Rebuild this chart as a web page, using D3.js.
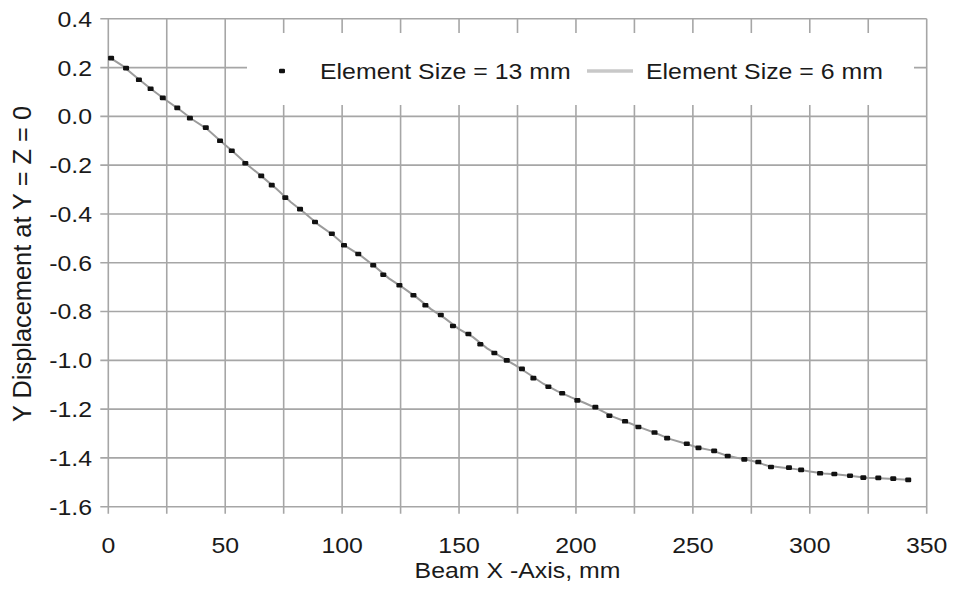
<!DOCTYPE html>
<html><head><meta charset="utf-8">
<script src="https://cdn.jsdelivr.net/npm/d3@7"></script>
<style>body{margin:0;background:#fff}svg text{font-family:"Liberation Sans",Arial,sans-serif;fill:#1a1a1a}</style>
</head><body><svg id="c" width="953" height="593"></svg>
<script>
// ---- data ----
const xTickValues = [0, 50, 100, 150, 200, 250, 300, 350];
const yTickValues = [0.4, 0.2, 0.0, -0.2, -0.4, -0.6, -0.8, -1.0, -1.2, -1.4, -1.6];
const yTickLabels = ["0.4","0.2","0.0","-0.2","-0.4","-0.6","-0.8","-1.0","-1.2","-1.4","-1.6"];
const seriesNames = ["Element Size = 13 mm", "Element Size = 6 mm"];
// Element Size = 13 mm (markers)
const coarseX = [1.2,7.6,13.1,18.1,23.3,29.5,34.9,41.7,47.8,52.8,58.6,65.4,69.9,75.7,82.0,88.4,95.6,100.8,106.9,113.3,117.6,124.5,130.5,135.6,142.2,147.4,154.0,159.1,165.1,170.4,176.9,181.8,188.2,194.1,200.6,208.3,214.3,221.0,226.7,233.6,239.0,247.4,252.4,259.1,264.9,272.0,278.0,283.4,291.1,296.3,304.4,310.5,317.2,322.9,329.3,335.7,342.1];
const coarseY = [0.239,0.198,0.150,0.113,0.076,0.035,-0.007,-0.046,-0.100,-0.141,-0.192,-0.244,-0.282,-0.333,-0.380,-0.433,-0.481,-0.528,-0.564,-0.610,-0.649,-0.692,-0.733,-0.774,-0.814,-0.859,-0.892,-0.934,-0.970,-1.000,-1.035,-1.073,-1.108,-1.135,-1.164,-1.192,-1.227,-1.250,-1.273,-1.296,-1.319,-1.342,-1.359,-1.371,-1.392,-1.406,-1.417,-1.437,-1.440,-1.449,-1.463,-1.466,-1.473,-1.481,-1.482,-1.485,-1.490];
// Element Size = 6 mm (line)
const fineX = [0,6,12,18,24,30,36,42,48,54,60,66,72,78,84,90,96,102,108,114,120,126,132,138,144,150,156,162,168,174,180,186,192,198,204,210,216,222,228,234,240,246,252,258,264,270,276,282,288,294,300,306,312,318,324,330,336,342];
const fineY = [0.245,0.208,0.160,0.114,0.071,0.031,-0.013,-0.050,-0.101,-0.150,-0.202,-0.249,-0.298,-0.351,-0.396,-0.445,-0.485,-0.535,-0.571,-0.615,-0.664,-0.702,-0.743,-0.790,-0.828,-0.872,-0.905,-0.951,-0.986,-1.020,-1.057,-1.096,-1.126,-1.152,-1.176,-1.202,-1.232,-1.254,-1.277,-1.298,-1.322,-1.339,-1.357,-1.369,-1.389,-1.402,-1.414,-1.432,-1.439,-1.446,-1.456,-1.464,-1.468,-1.474,-1.481,-1.483,-1.486,-1.490];

// ---- layout ----
const svg = d3.select("#c");
const L = 108.3, R = 926.7, T = 18.8, B = 506.7;
const SX = 1.13, FS = 22;
const x = d3.scaleLinear().domain([0, 350]).range([L, R]);
const y = d3.scaleLinear().domain([-1.6, 0.4]).range([B, T]);
const gridColor = "#a6a6a6";

// vertical gridlines every 25 (extend below axis as ticks)
const vGrid = d3.range(0, 351, 25);
svg.append("g").selectAll("line").data(vGrid).join("line")
  .attr("x1", d => x(d)).attr("x2", d => x(d))
  .attr("y1", T).attr("y2", B + 7)
  .attr("stroke", gridColor).attr("stroke-width", 1.6);
// horizontal gridlines (extend left as ticks)
svg.append("g").selectAll("line").data(yTickValues).join("line")
  .attr("x1", L - 8).attr("x2", R)
  .attr("y1", d => y(d)).attr("y2", d => y(d))
  .attr("stroke", gridColor).attr("stroke-width", 1.6);

// y tick labels
svg.append("g").selectAll("text").data(yTickValues).join("text")
  .attr("transform", d => `translate(92,${y(d)}) scale(${SX},1)`)
  .attr("text-anchor", "end").attr("dy", "0.36em")
  .style("font-size", FS + "px")
  .text((d, i) => yTickLabels[i]);
// x tick labels
svg.append("g").selectAll("text").data(xTickValues).join("text")
  .attr("transform", d => `translate(${x(d)},553) scale(${SX},1)`)
  .attr("text-anchor", "middle")
  .style("font-size", FS + "px")
  .text(d => d);

// axis titles
svg.append("text")
  .attr("transform", `translate(${(L + R) / 2},578) scale(${SX},1)`)
  .attr("text-anchor", "middle").style("font-size", FS + "px")
  .text("Beam X -Axis, mm");
svg.append("text")
  .attr("transform", `translate(31,264) rotate(-90)`)
  .attr("text-anchor", "middle").style("font-size", "25.4px")
  .text("Y Displacement at Y = Z = 0");

// legend background
svg.append("rect").attr("x", 247).attr("y", 33).attr("width", 667).attr("height", 72).attr("fill", "#fff");

// fine series line
const line = d3.line().x(d => x(d[0])).y(d => y(d[1]));
svg.append("path").datum(fineX.map((v, i) => [v, fineY[i]]))
  .attr("d", line).attr("fill", "none").attr("stroke", "#9c9c9c").attr("stroke-width", 2);

// coarse markers
svg.append("g").selectAll("rect").data(coarseX.map((v, i) => [v, coarseY[i]])).join("rect")
  .attr("x", d => x(d[0]) - 3).attr("y", d => y(d[1]) - 2.3)
  .attr("width", 6).attr("height", 4.6).attr("rx", 1.2)
  .attr("fill", "#111");

// legend
svg.append("rect").attr("x", 279).attr("y", 68.7).attr("width", 6).attr("height", 4.6).attr("rx", 1.2).attr("fill", "#111");
svg.append("text").attr("transform", `translate(320,79) scale(${SX},1)`).style("font-size", FS + "px").text(seriesNames[0]);
svg.append("line").attr("x1", 587).attr("x2", 633).attr("y1", 71).attr("y2", 71).attr("stroke", "#c8c8c8").attr("stroke-width", 3.5);
svg.append("text").attr("transform", `translate(646,79) scale(${SX},1)`).style("font-size", FS + "px").text(seriesNames[1]);
</script>
</body></html>
